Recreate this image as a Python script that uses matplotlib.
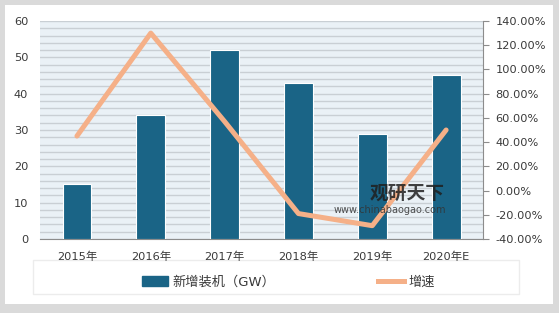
import matplotlib.pyplot as plt
import matplotlib.patches as mpatches
from matplotlib.ticker import FuncFormatter, MultipleLocator
import numpy as np

plt.rcParams['font.family'] = ['DejaVu Sans', 'Noto Sans CJK SC']

years = ["2015年", "2016年", "2017年", "2018年", "2019年", "2020年E"]
new_capacity = [15, 34, 52, 43, 29, 45]          # 新增装机（GW）
growth = [45, 130, 57, -19, -29, 50]              # 增速 (%)

bar_color = "#1a6486"
line_color = "#f5b088"
text_color = "#3a3a3a"

fig = plt.figure(figsize=(5.59, 3.13), dpi=100)

# marco exterior gris con el área blanca
fig.patches.append(mpatches.Rectangle((0, 0), 1, 1, transform=fig.transFigure,
                                      facecolor="#dadada", edgecolor="none", zorder=-3))
fig.patches.append(mpatches.Rectangle((0.009, 0.029), 0.980, 0.955, transform=fig.transFigure,
                                      facecolor="white", edgecolor="none", zorder=-2))
# caja de la leyenda (debajo de los ejes)
fig.patches.append(mpatches.Rectangle((0.059, 0.061), 0.87, 0.108, transform=fig.transFigure,
                                      facecolor="white", edgecolor="#ececec", zorder=-1))

ax = fig.add_axes([0.0716, 0.2364, 0.7925, 0.6966])
x = np.arange(len(years))
ax.set_facecolor("#eaf1f6")
ax.bar(x, new_capacity, width=0.39, color=bar_color, edgecolor="white", linewidth=0.8,
       zorder=3, label="新增装机（GW）")
ax.set_xlim(-0.5, len(years) - 0.5)
ax.set_ylim(0, 60)
ax.yaxis.set_major_locator(MultipleLocator(10))
ax.yaxis.set_minor_locator(MultipleLocator(2))
ax.grid(axis="y", which="both", color="#c9cfd4", linewidth=1.0, zorder=0)
ax.set_axisbelow(True)
ax.set_xticks(x)
ax.set_xticklabels(years)
ax.tick_params(axis="both", which="both", length=0, labelsize=8.2, colors=text_color)
ax.tick_params(axis="x", pad=9)
ax.tick_params(axis="y", pad=8.5)
for s in ["top", "left", "right"]:
    ax.spines[s].set_visible(False)
ax.spines["bottom"].set_color("#8c8c8c")

ax2 = ax.twinx()
ax2.plot(x, growth, color=line_color, linewidth=3.6, solid_capstyle="round", zorder=4,
         label="增速")
ax2.set_ylim(-40, 140)
ax2.yaxis.set_major_locator(MultipleLocator(20))
ax2.yaxis.set_major_formatter(FuncFormatter(lambda v, p: f"{v:.2f}%"))
ax2.tick_params(axis="y", length=4, labelsize=8.2, colors=text_color, pad=5)
ax2.tick_params(axis="y", color="#8c8c8c")
for s in ["top", "left", "bottom"]:
    ax2.spines[s].set_visible(False)
ax2.spines["right"].set_color("#8c8c8c")

# marca de agua
fig.text(0.662, 0.365, "观研天下", fontsize=13.5, fontweight="bold", color="#1f1f1f",
         family=["Noto Sans CJK SC"], alpha=0.85, zorder=10)
fig.text(0.596, 0.318, "www.chinabaogao.com", fontsize=7, color="#333333", alpha=0.85,
         zorder=10)

# leyenda inferior
handles = [mpatches.Patch(color=bar_color),
           plt.Line2D([], [], color=line_color, linewidth=3.6)]
leg = fig.legend(handles, ["新增装机（GW）", "增速"], loc="center", ncol=2,
                 bbox_to_anchor=(0.516, 0.099), frameon=False, fontsize=9.5,
                 columnspacing=7.8, handlelength=2.0, handletextpad=0.3)
for t in leg.get_texts():
    t.set_color(text_color)

fig.savefig("out.png", dpi=100)
